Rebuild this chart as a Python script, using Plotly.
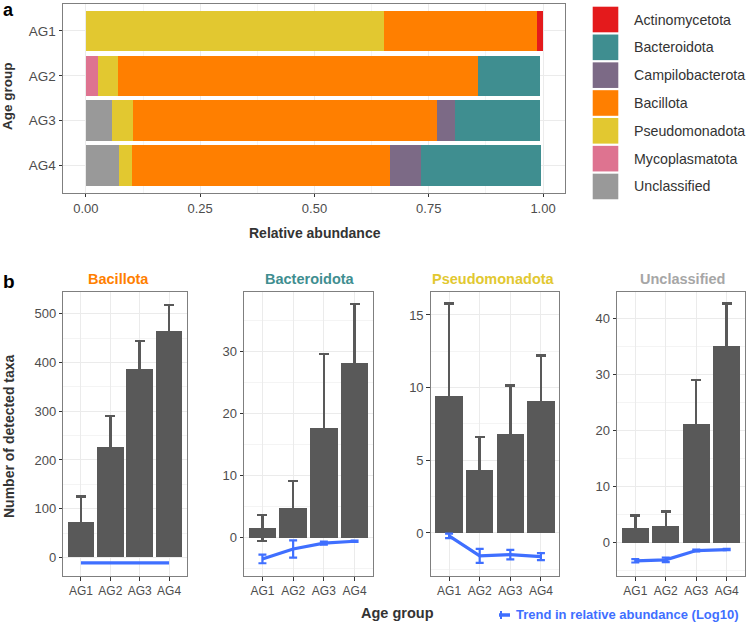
import plotly.graph_objects as go

W, H = 748, 623
FONT = "Liberation Sans, Arial, sans-serif"

# ---------------- data ----------------
age_groups = ["AG1", "AG2", "AG3", "AG4"]

# panel a: relative abundance (stack order left -> right)
phyla_stack = ["Unclassified", "Mycoplasmatota", "Pseudomonadota", "Bacillota",
               "Campilobacterota", "Bacteroidota", "Actinomycetota"]
legend_order = ["Actinomycetota", "Bacteroidota", "Campilobacterota", "Bacillota",
                "Pseudomonadota", "Mycoplasmatota", "Unclassified"]
rel_unclassified = [0.000, 0.000, 0.057, 0.072]
rel_mycoplasmatota = [0.000, 0.027, 0.000, 0.000]
rel_pseudomonadota = [0.653, 0.043, 0.047, 0.028]
rel_bacillota = [0.334, 0.787, 0.665, 0.566]
rel_campilobacterota = [0.000, 0.000, 0.038, 0.067]
rel_bacteroidota = [0.000, 0.137, 0.186, 0.263]
rel_actinomycetota = [0.012, 0.000, 0.000, 0.000]

colors = {
    "Actinomycetota": "#E41A1C",
    "Bacteroidota": "#3F8E90",
    "Campilobacterota": "#7C6A86",
    "Bacillota": "#FF7F00",
    "Pseudomonadota": "#E2C830",
    "Mycoplasmatota": "#DE7390",
    "Unclassified": "#999999",
}
rel_values = {
    "Unclassified": rel_unclassified,
    "Mycoplasmatota": rel_mycoplasmatota,
    "Pseudomonadota": rel_pseudomonadota,
    "Bacillota": rel_bacillota,
    "Campilobacterota": rel_campilobacterota,
    "Bacteroidota": rel_bacteroidota,
    "Actinomycetota": rel_actinomycetota,
}

# panel b: number of detected taxa (mean, sd) and trend in log10 rel. abundance
panel_names = ["Bacillota", "Bacteroidota", "Pseudomonadota", "Unclassified"]
taxa_bacillota = [72, 227, 387, 464]
taxa_bacillota_sd = [53, 63, 57, 54]
taxa_bacteroidota = [1.5, 4.7, 17.6, 28.1]
taxa_bacteroidota_sd = [2.1, 4.4, 12.0, 9.5]
taxa_pseudomonadota = [9.4, 4.3, 6.8, 9.05]
taxa_pseudomonadota_sd = [6.4, 2.3, 3.35, 3.15]
taxa_unclassified = [2.6, 3.0, 21.1, 35.0]
taxa_unclassified_sd = [2.25, 2.55, 7.9, 7.6]

trend_bacillota = [-11.0, -10.5, -10.8, -11.0]
trend_bacillota_sd = [0.0, 0.0, 0.0, 0.0]
trend_bacteroidota = [-3.45, -1.85, -0.9, -0.6]
trend_bacteroidota_sd = [0.7, 1.4, 0.25, 0.1]
trend_pseudomonadota = [-0.2, -1.58, -1.49, -1.63]
trend_pseudomonadota_sd = [0.15, 0.48, 0.33, 0.24]
trend_unclassified = [-3.2, -3.03, -1.37, -1.19]
trend_unclassified_sd = [0.3, 0.4, 0.15, 0.1]

panel_data = [
    (taxa_bacillota, taxa_bacillota_sd, trend_bacillota, trend_bacillota_sd),
    (taxa_bacteroidota, taxa_bacteroidota_sd, trend_bacteroidota, trend_bacteroidota_sd),
    (taxa_pseudomonadota, taxa_pseudomonadota_sd, trend_pseudomonadota, trend_pseudomonadota_sd),
    (taxa_unclassified, taxa_unclassified_sd, trend_unclassified, trend_unclassified_sd),
]
panel_title_colors = ["#FF7F00", "#3F8E90", "#E2C830", "#A6A6A6"]
panel_yranges = [[-38, 545], [-6.2, 39.6], [-2.96, 16.6], [-5.9, 44.7]]
panel_ticks = [[0, 100, 200, 300, 400, 500], [0, 10, 20, 30], [0, 5, 10, 15], [0, 10, 20, 30, 40]]
panel_minor = [50, 5, 2.5, 5]

BAR_COLOR = "#595959"
TREND_COLOR = "#3F6FFF"

# ---------------- layout helpers ----------------
def xd(a, b):
    return [a / W, b / W]

def yd(top, bottom):
    return [1 - bottom / H, 1 - top / H]

fig = go.Figure()

# panel a bars
for ph in phyla_stack:
    fig.add_trace(go.Bar(
        x=rel_values[ph], y=age_groups, orientation="h",
        marker=dict(color=colors[ph], line=dict(width=0)),
        name=ph, showlegend=False, xaxis="x", yaxis="y", hoverinfo="x+y+name",
    ))

# panel b
panel_x = [(63.3, 186.7), (244, 373), (430.7, 559.3), (617, 745)]
title_x = [118, 310, 493, 682]
for i, (vals, sds, tr, trsd) in enumerate(panel_data):
    ax = str(i + 2)
    fig.add_trace(go.Bar(
        x=age_groups, y=vals,
        marker=dict(color=BAR_COLOR, line=dict(width=0)),
        error_y=dict(type="data", array=sds, color=BAR_COLOR, thickness=2.5, width=5),
        showlegend=False, xaxis="x" + ax, yaxis="y" + ax,
    ))
    fig.add_trace(go.Scatter(
        x=age_groups, y=tr, mode="lines",
        line=dict(color=TREND_COLOR, width=3.2),
        error_y=dict(type="data", array=trsd, color=TREND_COLOR, thickness=2.2, width=4,
                     visible=any(v > 0 for v in trsd)),
        showlegend=False, xaxis="x" + ax, yaxis="y" + ax,
    ))

axis_common = dict(
    showline=True, linecolor="#7F7F7F", linewidth=1, mirror=True,
    ticks="outside", ticklen=3.5, tickcolor="#333333", tickwidth=1,
    tickfont=dict(family=FONT, size=12.5, color="#4D4D4D"),
    showgrid=True, gridcolor="#EBEBEB", gridwidth=1, zeroline=False,
)

layout = dict(
    width=W, height=H, margin=dict(l=0, r=0, t=0, b=0),
    paper_bgcolor="white", plot_bgcolor="white",
    barmode="stack", bargap=0.1, showlegend=False,
    font=dict(family=FONT),
)

layout["xaxis"] = dict(axis_common, domain=xd(63, 565), anchor="y", range=[-0.05, 1.048],
                       tickvals=[0, 0.25, 0.5, 0.75, 1.0], ticktext=["0.00", "0.25", "0.50", "0.75", "1.00"],
                       tickfont=dict(family=FONT, size=13, color="#4D4D4D"),
                       minor=dict(showgrid=True, gridcolor="#F4F4F4", tickvals=[0.125, 0.375, 0.625, 0.875], ticks=""))
layout["yaxis"] = dict(axis_common, domain=yd(4, 192.5), anchor="x", type="category",
                       categoryorder="array", categoryarray=age_groups, range=[3.6, -0.6],
                       tickfont=dict(family=FONT, size=13.5, color="#4D4D4D"))

for i in range(4):
    ax = str(i + 2)
    a, b = panel_x[i]
    layout["xaxis" + ax] = dict(axis_common, domain=xd(a, b), anchor="y" + ax, type="category",
                                categoryorder="array", categoryarray=age_groups, range=[-0.6, 3.6],
                                tickfont=dict(family=FONT, size=12, color="#4D4D4D"))
    layout["yaxis" + ax] = dict(axis_common, domain=yd(291.7, 576), anchor="x" + ax,
                                range=panel_yranges[i], tickvals=panel_ticks[i],
                                tickfont=dict(family=FONT, size=13, color="#4D4D4D"),
                                minor=dict(showgrid=True, gridcolor="#F4F4F4", dtick=panel_minor[i] * 2,
                                           tick0=panel_minor[i], ticks=""))

fig.update_layout(**layout)

# ---------------- annotations ----------------
ann = []
def text(x, y, s, size, color="#333333", bold=True, xanchor="center", yanchor="middle", angle=0):
    ann.append(dict(x=x / W, y=1 - y / H, xref="paper", yref="paper", text=s, showarrow=False,
                    xanchor=xanchor, yanchor=yanchor, textangle=angle,
                    font=dict(family=FONT, size=size, color=color, weight="bold" if bold else "normal")))

text(1, 10, "a", 18, color="#000000", xanchor="left")
text(1, 281, "b", 19, color="#000000", xanchor="left")
text(8, 96, "Age group", 13.5, angle=-90)
text(315, 233, "Relative abundance", 14)
text(9, 436, "Number of detected taxa", 14, angle=-90)
text(397, 613, "Age group", 14.5)
text(514, 614, "Trend in relative abundance (Log10)", 13, color=TREND_COLOR, xanchor="left")

for i, nm in enumerate(panel_names):
    text(title_x[i], 279, nm, 14.5, color=panel_title_colors[i])

# legend for panel a
shapes = []
row_top = 6.7
for k, ph in enumerate(legend_order):
    t = row_top + k * 27.83
    shapes.append(dict(type="rect", xref="paper", yref="paper",
                       x0=592.7 / W, x1=618.3 / W, y0=1 - (t + 25.6) / H, y1=1 - t / H,
                       fillcolor=colors[ph], line=dict(width=0)))
    text(632, t + 12.8, ph, 14.2, color="#333333", bold=False, xanchor="left")

# trend legend key
shapes.append(dict(type="line", xref="paper", yref="paper", x0=499 / W, x1=510 / W,
                   y0=1 - 615 / H, y1=1 - 615 / H, line=dict(color=TREND_COLOR, width=3.5)))
shapes.append(dict(type="line", xref="paper", yref="paper", x0=501 / W, x1=501 / W,
                   y0=1 - 611 / H, y1=1 - 619 / H, line=dict(color=TREND_COLOR, width=2)))

fig.update_layout(annotations=ann, shapes=shapes)
fig.write_html("out.html")
